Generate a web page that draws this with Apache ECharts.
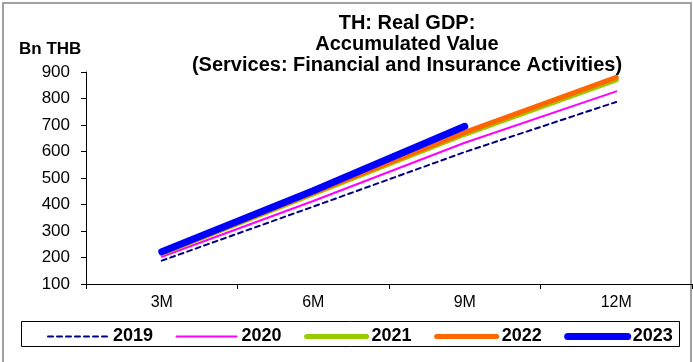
<!DOCTYPE html>
<html><head><meta charset="utf-8">
<script src="https://cdn.jsdelivr.net/npm/echarts@6/dist/echarts.min.js"></script>
<style>html,body{margin:0;padding:0;background:#fff}#c{width:693px;height:362px}</style>
</head><body><div id="c"></div>
<script>
const categories = ['3M', '6M', '9M', '12M'];
const s2019 = [188, 392, 598, 787];
const s2020 = [203, 413, 633, 827];
const s2021 = [214, 440, 665, 870];
const s2022 = [217, 445, 672, 880];
const s2023 = [222, 452, 695];
const yTicks = [100, 200, 300, 400, 500, 600, 700, 800, 900];

const chart = echarts.init(document.getElementById('c'));
const F = 'Arial, "Liberation Sans", sans-serif';
const mk = (name, data, color, width, type, z) => ({
  name, type: 'line', data, symbol: 'none', z,
  lineStyle: { color, width, type, cap: 'round' },
  itemStyle: { color }, animation: false
});
chart.setOption({
  animation: false,
  title: {
    text: 'TH: Real GDP:\nAccumulated Value\n(Services: Financial and Insurance Activities)',
    left: 402, top: 8, textAlign: 'center',
    textStyle: { fontFamily: F, fontSize: 20, fontWeight: 'bold', color: '#000', lineHeight: 21 }
  },
  graphic: [
    { type: 'rect', shape: { x: 3, y: 3, width: 688, height: 380 }, style: { fill: 'none', stroke: '#a0a0a0', lineWidth: 2 }, silent: true },
    { type: 'text', left: 19, top: 41, style: { text: 'Bn THB', font: 'bold 17px ' + F, fill: '#000' } },
    { type: 'rect', shape: { x: 21.5, y: 321.5, width: 658, height: 25 }, style: { fill: '#fff', stroke: '#000', lineWidth: 1 }, z: 0, silent: true }
  ],
  legend: {
    data: [
      { name: '2019', lineStyle: { width: 2 } },
      { name: '2020', lineStyle: { width: 2 } },
      { name: '2021', lineStyle: { width: 5 } },
      { name: '2022', lineStyle: { width: 5 } },
      { name: '2023', lineStyle: { width: 7 } }
    ],
    left: 42, top: 322.5, itemWidth: 60, itemHeight: 14, itemGap: 22.5,
    itemStyle: { opacity: 0 },
    textStyle: { fontFamily: F, fontSize: 18, fontWeight: 'bold', color: '#000' },
    z: 10
  },
  grid: { left: 86, right: 1, top: 72, bottom: 78, containLabel: false },
  xAxis: {
    type: 'category', data: categories, boundaryGap: true,
    axisLine: { lineStyle: { color: '#000', width: 1 } },
    axisTick: { show: true, inside: false, length: 5, lineStyle: { color: '#000' } },
    axisLabel: { fontFamily: F, fontSize: 16, color: '#000', margin: 11 },
    splitLine: { show: false }
  },
  yAxis: {
    type: 'value', min: 100, max: 900, interval: 100,
    axisLine: { show: true, lineStyle: { color: '#000', width: 1 } },
    axisTick: { show: true, length: 5, lineStyle: { color: '#000' } },
    axisLabel: { fontFamily: F, fontSize: 17, color: '#000', margin: 16,
      formatter: v => yTicks.includes(v) ? String(v) : '' },
    splitLine: { show: false }
  },
  series: [
    mk('2019', s2019, '#000080', 2, [5, 4], 1),
    mk('2020', s2020, '#ff00ff', 2, 'solid', 2),
    mk('2021', s2021, '#99cc00', 5, 'solid', 3),
    mk('2022', s2022, '#ff6600', 5, 'solid', 4),
    mk('2023', s2023, '#0000ff', 7, 'solid', 5)
  ]
});
</script></body></html>
